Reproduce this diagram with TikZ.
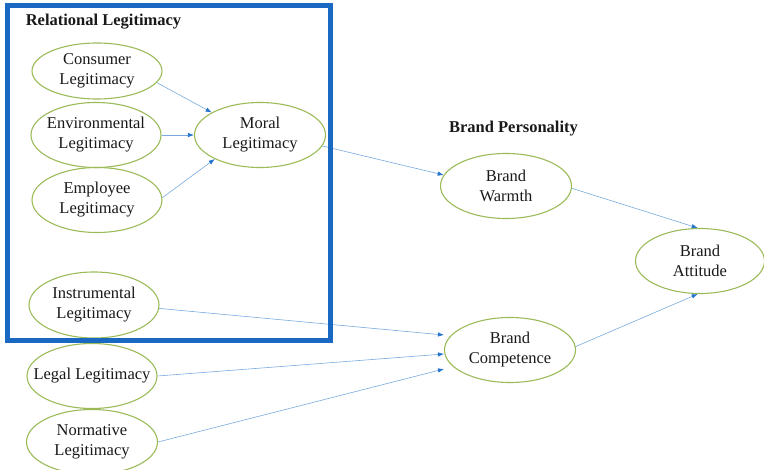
\documentclass[tikz,border=0pt]{standalone}
\usepackage{fontspec}
\setmainfont{Liberation Serif}
\usetikzlibrary{shapes.geometric,arrows.meta,calc}
\definecolor{ellline}{RGB}{155,187,89}
\definecolor{linkc}{RGB}{120,170,222}
\definecolor{tipc}{RGB}{35,115,205}
\definecolor{boxc}{RGB}{25,105,195}
\definecolor{txt}{RGB}{25,25,25}
\begin{document}
\begin{tikzpicture}[x=1pt,y=-1pt,
  ell/.style={draw=ellline, line width=1.1pt, ellipse, minimum width=130pt,
    minimum height=65pt, inner sep=0pt},
  lbl/.style={align=center, font=\fontsize{16.5}{20}\selectfont, text=txt, inner sep=0pt},
  ttl/.style={font=\fontsize{16.5}{20}\selectfont\bfseries, text=txt, inner sep=0pt},
  link/.style={draw=linkc, line width=0.6pt,
    -{Latex[length=6pt,width=4.5pt,color=tipc]}}]
\useasboundingbox (0,0) rectangle (764,470);

% construct ellipses
\node[ell, minimum height=56pt] (cons) at (97,71) {};
\node[ell] (env) at (96,135) {};
\node[ell] (emp) at (97,200) {};
\node[ell, minimum width=131pt] (moral) at (260,135) {};
\node[ell, minimum height=66pt] (instr) at (94,305) {};
\node[ell] (legal) at (92,376) {};
\node[ell, minimum width=131pt] (norm) at (92,442) {};
\node[ell, minimum width=131pt] (warmth) at (506,186) {};
\node[ell, minimum width=129pt] (attitude) at (700,261) {};
\node[ell, minimum width=131pt] (comp) at (510,350) {};

% construct names
\node[lbl] (cons-t) at (cons) {Consumer\\Legitimacy};
\node[lbl] (env-t) at (env) {Environmental\\Legitimacy};
\node[lbl] (emp-t) at (emp) {Employee\\Legitimacy};
\node[lbl] (moral-t) at (moral) {Moral\\Legitimacy};
\node[lbl] (instr-t) at (instr) {Instrumental\\Legitimacy};
\node[lbl] (legal-t) at (legal) {Legal Legitimacy};
\node[lbl] (norm-t) at (norm) {Normative\\Legitimacy};
\node[lbl] (warmth-t) at (warmth) {Brand\\Warmth};
\node[lbl] (attitude-t) at (attitude) {Brand\\Attitude};
\node[lbl] (comp-t) at (comp) {Brand\\Competence};

% group headings
\node[ttl] (rel-title) at (103.5,22) {Relational Legitimacy};
\node[ttl] (pers-title) at (513.5,129) {Brand Personality};

% paths
\draw[link] (cons.-11) -- (moral.155);
\draw[link] (env.east) -- (moral.west);
\draw[link] (emp.2) -- (moral.208);
\draw[link] (moral.-10) -- (warmth.170);
\draw[link] (warmth.-2) -- (attitude.94);
\draw[link] (comp.3) -- (attitude.266);
\draw[link] (instr.-3) -- ($(comp.west)+(0,-15)$);
\draw[link] (legal.east) -- ($(comp.west)+(0,4)$);
\draw[link] (norm.east) -- ($(comp.west)+(0,19)$);

% relational legitimacy frame
\node[draw=boxc, line width=5pt, minimum width=323.5pt, minimum height=335pt,
  inner sep=0pt] (relbox) at (168.75,173) {};
\end{tikzpicture}
\end{document}
